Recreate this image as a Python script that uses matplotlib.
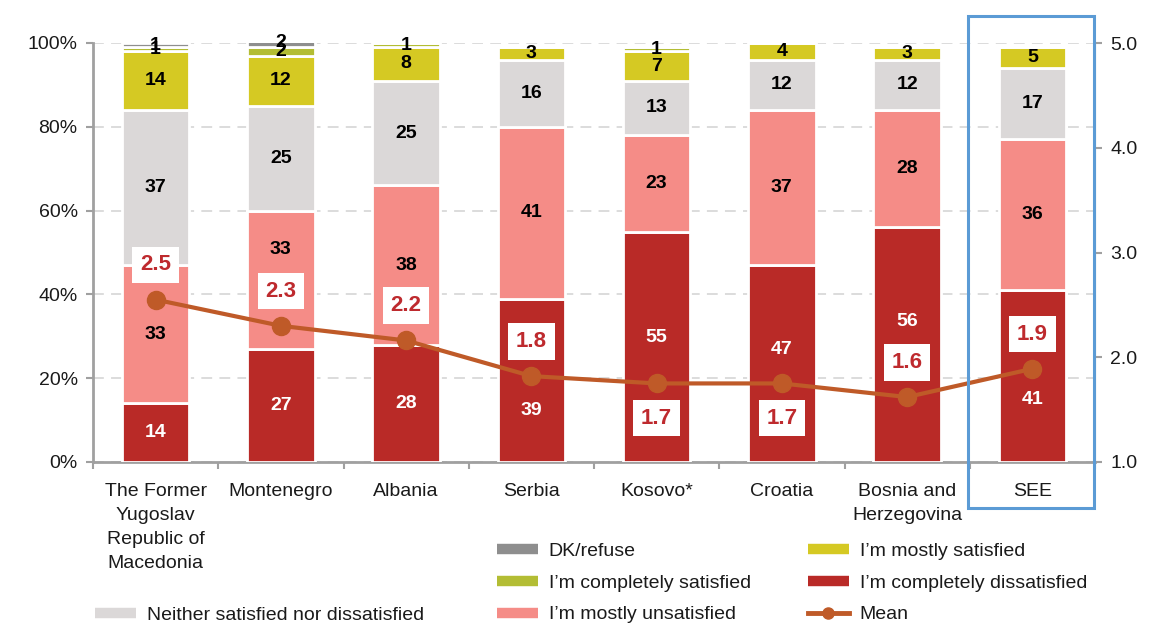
import matplotlib
matplotlib.use("Agg")
import matplotlib.pyplot as plt
import numpy as np
from matplotlib.lines import Line2D
from matplotlib.patches import Rectangle

plt.rcParams['font.family'] = ['Liberation Sans', 'DejaVu Sans']

categories = ["The Former\nYugoslav\nRepublic of\nMacedonia", "Montenegro", "Albania", "Serbia",
              "Kosovo*", "Croatia", "Bosnia and\nHerzegovina", "SEE"]
completely_dissatisfied = [14, 27, 28, 39, 55, 47, 56, 41]
mostly_unsatisfied = [33, 33, 38, 41, 23, 37, 28, 36]
neither = [37, 25, 25, 16, 13, 12, 12, 17]
mostly_satisfied = [14, 12, 8, 3, 7, 4, 3, 5]
completely_satisfied = [1, 2, 1, 0, 1, 0, 0, 0]
dk_refuse = [1, 2, 0, 0, 0, 0, 0, 0]
mean_values = [2.55, 2.30, 2.16, 1.82, 1.75, 1.75, 1.62, 1.89]
mean_labels = ["2.5", "2.3", "2.2", "1.8", "1.7", "1.7", "1.6", "1.9"]
left_ticks = [0, 20, 40, 60, 80, 100]
right_ticks = [1.0, 2.0, 3.0, 4.0, 5.0]

C_DARK = "#B92A27"
C_SALMON = "#F58C87"
C_GREY = "#DBD8D8"
C_YEL = "#D5C923"
C_GRN = "#B3BD34"
C_DK = "#8E8E8E"
C_MEAN = "#BF5A28"
C_MEANTXT = "#BE2A2E"
AX_COL = "#A0A0A0"

W, H = 1166, 630
fig = plt.figure(figsize=(W / 100, H / 100), dpi=100)
ax = fig.add_axes([93 / W, 1 - 462 / H, (1095 - 93) / W, (462 - 43) / H])

x = np.arange(len(categories))
series = [
    (completely_dissatisfied, C_DARK, "white"),
    (mostly_unsatisfied, C_SALMON, "black"),
    (neither, C_GREY, "black"),
    (mostly_satisfied, C_YEL, "black"),
    (completely_satisfied, C_GRN, "black"),
    (dk_refuse, C_DK, "black"),
]
# manual label nudges (in points) to keep segment labels clear of the mean labels
label_nudge = {(0, 3): -22, (0, 4): 7, (0, 5): 10, (0, 6): 17, (0, 7): -17,
               (1, 1): 22}
bottom = np.zeros(len(categories))
for si, (vals, col, tcol) in enumerate(series):
    vals = np.array(vals, dtype=float)
    ax.bar(x, vals, bottom=bottom, width=0.54, color=col, edgecolor="white",
           linewidth=2, zorder=3)
    for i, v in enumerate(vals):
        if v > 0:
            ax.annotate(f"{int(v)}", (x[i], bottom[i] + v / 2),
                        xytext=(0, label_nudge.get((si, i), 0)), textcoords="offset points",
                        ha="center", va="center", fontsize=14, fontweight="bold",
                        color=tcol, zorder=5, annotation_clip=False)
    bottom += vals

ax.set_xlim(-0.5, len(categories) - 0.5)
ax.set_ylim(0, 100)
ax.set_yticks(left_ticks)
ax.set_yticklabels([f"{t}%" for t in left_ticks])
ax.yaxis.grid(True, color="#D9D9D9", linestyle=(0, (6, 4)), linewidth=1.3, zorder=0)
ax.set_axisbelow(True)
ax.set_xticks(x)
ax.set_xticklabels(categories, fontsize=14, linespacing=1.55)
ax.set_xticks(np.arange(-0.5, len(categories), 1.0), minor=True)
ax.tick_params(axis="x", which="major", length=0, pad=15, colors="#1a1a1a")
ax.tick_params(axis="x", which="minor", length=5, width=1.5, color=AX_COL)
ax.tick_params(axis="y", length=5, width=1.5, color=AX_COL, labelsize=14, pad=6,
               labelcolor="#1a1a1a")
for s in ["top", "right"]:
    ax.spines[s].set_visible(False)
for s in ["left", "bottom"]:
    ax.spines[s].set_color(AX_COL)
    ax.spines[s].set_linewidth(2)

ax2 = ax.twinx()
ax2.set_ylim(1, 5)
ax2.set_yticks(right_ticks)
ax2.set_yticklabels([f"{t:.1f}" for t in right_ticks])
ax2.tick_params(axis="y", length=5, width=1.5, color=AX_COL, labelsize=14, pad=6,
                labelcolor="#1a1a1a")
for s in ["top", "left", "bottom"]:
    ax2.spines[s].set_visible(False)
ax2.spines["right"].set_color(AX_COL)
ax2.spines["right"].set_linewidth(1.5)

ax2.plot(x, mean_values, color=C_MEAN, linewidth=3, marker="o", markersize=13,
         zorder=6)
label_side = [1, 1, 1, 1, -1, -1, 1, 1]
for i, (v, lab) in enumerate(zip(mean_values, mean_labels)):
    ax2.annotate(lab, (x[i], v), xytext=(0, 25 * label_side[i]), textcoords="offset points",
                 ha="center", va="center", fontsize=16, fontweight="bold", color=C_MEANTXT,
                 bbox=dict(boxstyle="square,pad=0.35", fc="white", ec="none"), zorder=7)

# highlight box around SEE
fig.patches.append(Rectangle((968 / W, 1 - 508 / H), (1094 - 968) / W, (508 - 16) / H,
                             transform=fig.transFigure, fill=False, ec="#5B9BD5", lw=2.2,
                             zorder=10))

def patch_handle(c):
    return Line2D([0], [0], color=c, lw=7.5, solid_capstyle="butt")

leg_kw = dict(frameon=False, fontsize=14, handlelength=2.1, handletextpad=0.55,
              labelspacing=0.72, borderpad=0, borderaxespad=0, loc="center left")
l1 = fig.legend([patch_handle(C_GREY)], ["Neither satisfied nor dissatisfied"],
                bbox_to_anchor=(95 / W, 1 - 615 / H), **leg_kw)
l2 = fig.legend([patch_handle(C_DK), patch_handle(C_GRN), patch_handle(C_SALMON)],
                ["DK/refuse", "I\u2019m completely satisfied", "I\u2019m mostly unsatisfied"],
                bbox_to_anchor=(497 / W, 1 - 583 / H), **leg_kw)
l3 = fig.legend([patch_handle(C_YEL), patch_handle(C_DARK),
                 Line2D([0], [0], color=C_MEAN, lw=3.5, marker="o", markersize=8)],
                ["I\u2019m mostly satisfied", "I\u2019m completely dissatisfied", "Mean"],
                bbox_to_anchor=(808 / W, 1 - 583 / H), **leg_kw)
for lg in (l1, l2, l3):
    for t in lg.get_texts():
        t.set_color("#1a1a1a")

fig.savefig("out.png", dpi=100)
